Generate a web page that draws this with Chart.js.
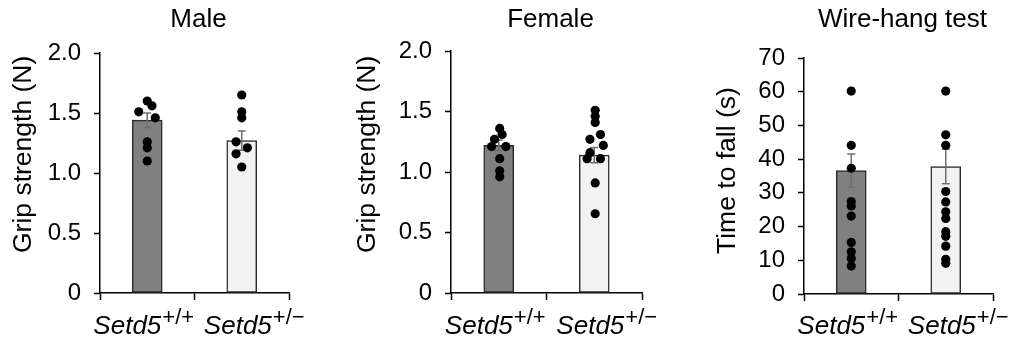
<!DOCTYPE html>
<html>
<head>
<meta charset="utf-8">
<script src="https://cdn.jsdelivr.net/npm/chart.js@4"></script>
<style>
  html, body { margin: 0; padding: 0; background: #fff; }
  #wrap { position: relative; width: 1016px; height: 345px; overflow: hidden; }
  .panel { position: absolute; top: 0; }
</style>
</head>
<body>
<div id="wrap"></div>
<script>
// ---- data ----
const geneName = 'Setd5';
const genotypes = ['+/+', '+/\u2212'];
const panelTitles = ['Male', 'Female', 'Wire-hang test'];
const yTitles = ['Grip strength (N)', 'Grip strength (N)', 'Time to fall (s)'];

const gripTicks = [0, 0.5, 1.0, 1.5, 2.0];
const wireTicks = [0, 10, 20, 30, 40, 50, 60, 70];

const maleMean = [1.44, 1.27];
const maleSem = [0.06, 0.08];
const maleWT = [1.60, 1.56, 1.51, 1.46, 1.26, 1.21, 1.10];
const maleWTJitter = [0, 0.05, -0.09, 0.085, 0, 0, 0];
const maleHet = [1.65, 1.51, 1.46, 1.26, 1.21, 1.16, 1.05];
const maleHetJitter = [0, 0, 0, -0.06, 0.06, -0.06, 0];

const femaleMean = [1.22, 1.14];
const femaleSem = [0.045, 0.063];
const femaleWT = [1.36, 1.31, 1.27, 1.21, 1.21, 1.11, 1.01, 0.96];
const femaleWTJitter = [0.01, 0.035, -0.045, -0.075, 0.075, 0.01, 0.01, 0.01];
const femaleHet = [1.51, 1.46, 1.41, 1.31, 1.27, 1.22, 1.16, 1.11, 1.11, 0.91, 0.655];
const femaleHetJitter = [0.01, 0.01, 0.01, 0.065, -0.045, 0.095, -0.045, -0.075, 0.065, 0.01, 0.01];

const wireMean = [36.6, 37.8];
const wireSem = [4.9, 5.1];
const wireWT = [60.2, 44.1, 37.3, 27.4, 26.1, 23.1, 15.3, 12.5, 10.5, 8.3];
const wireWTJitter = [0, 0, 0, 0, 0, 0, 0, 0, 0, 0];
const wireHet = [60.2, 47.2, 44.1, 30.4, 27.3, 24.4, 22.4, 18.5, 17.1, 14.2, 10.3, 9.1];
const wireHetJitter = [0, 0, 0, 0, 0, 0, 0, 0, 0, 0, 0, 0];

// ---- layout of the three panels ----
const panels = [
  { left: 0,   width: 339, top: 53, right: 50, yw: 100, xh: 52, ytOff: 76,
    mean: maleMean, sem: maleSem, wt: maleWT, wtJ: maleWTJitter, het: maleHet, hetJ: maleHetJitter, ticks: gripTicks },
  { left: 339, width: 339, top: 51, right: 36, yw: 112, xh: 52, ytOff: 83,
    mean: femaleMean, sem: femaleSem, wt: femaleWT, wtJ: femaleWTJitter, het: femaleHet, hetJ: femaleHetJitter, ticks: gripTicks },
  { left: 678, width: 338, top: 58, right: 23, yw: 126, xh: 51, ytOff: 76,
    mean: wireMean, sem: wireSem, wt: wireWT, wtJ: wireWTJitter, het: wireHet, hetJ: wireHetJitter, ticks: wireTicks }
];

const FONT = '"Liberation Sans", Arial, sans-serif';
Chart.defaults.font.family = FONT;
Chart.defaults.color = '#000';

const barColors = ['#808080', '#f2f2f2'];
const labelShift = [-4, 12];

function fmtTick(v, ticks) {
  if (v === 0) return '0';
  return ticks[ticks.length - 1] < 10 ? v.toFixed(1) : String(v);
}

// error bars go on top of the bars but under the dots
const errorBars = {
  id: 'errorBars',
  afterDatasetDraw(chart, args) {
    if (args.index !== 0) return;
    const p = chart.options.plugins.errorBars;
    const ctx = chart.ctx, xs = chart.scales.x, ys = chart.scales.y;
    ctx.save();
    ctx.strokeStyle = '#6e6e6e';
    ctx.lineWidth = 1.5;
    p.mean.forEach((m, i) => {
      const x = xs.getPixelForValue(i);
      const y1 = ys.getPixelForValue(m - p.sem[i]);
      const y2 = ys.getPixelForValue(m + p.sem[i]);
      ctx.beginPath();
      ctx.moveTo(x, y1); ctx.lineTo(x, y2);
      ctx.moveTo(x - 4, y1); ctx.lineTo(x + 4, y1);
      ctx.moveTo(x - 4, y2); ctx.lineTo(x + 4, y2);
      ctx.stroke();
    });
    ctx.restore();
  }
};

// titles, rotated axis titles and italic genotype labels
const texts = {
  id: 'texts',
  afterDraw(chart) {
    const p = chart.options.plugins.texts;
    const ctx = chart.ctx, ca = chart.chartArea, xs = chart.scales.x;
    ctx.save();
    ctx.fillStyle = '#000';
    ctx.textBaseline = 'alphabetic';
    ctx.textAlign = 'center';
    ctx.font = '26px ' + FONT;
    ctx.fillText(p.title, (ca.left + ca.right) / 2 + 4, 27);

    ctx.save();
    ctx.translate(ca.left - p.ytOff, ca.bottom - 40);
    ctx.rotate(-Math.PI / 2);
    ctx.textAlign = 'left';
    ctx.textBaseline = 'middle';
    ctx.font = '26.5px ' + FONT;
    ctx.fillText(p.yTitle, 0, 0);
    ctx.restore();

    ctx.textAlign = 'left';
    genotypes.forEach((g, i) => {
      ctx.font = 'italic 26px ' + FONT;
      const wMain = ctx.measureText(geneName).width;
      ctx.font = '22px ' + FONT;
      const wSup = ctx.measureText(g).width;
      const x0 = xs.getPixelForValue(i) + labelShift[i] - (wMain + wSup) / 2;
      ctx.font = 'italic 26px ' + FONT;
      ctx.fillText(geneName, x0, 334);
      ctx.font = '22px ' + FONT;
      ctx.fillText(g, x0 + wMain + 1, 324);
    });
    ctx.restore();
  }
};

const wrap = document.getElementById('wrap');

panels.forEach((p, k) => {
  const div = document.createElement('div');
  div.className = 'panel';
  div.style.left = p.left + 'px';
  const canvas = document.createElement('canvas');
  canvas.width = p.width;
  canvas.height = 345;
  canvas.style.width = p.width + 'px';
  canvas.style.height = '345px';
  div.appendChild(canvas);
  wrap.appendChild(div);

  const dots = p.wt.map((v, i) => ({ x: 0 + p.wtJ[i], y: v }))
    .concat(p.het.map((v, i) => ({ x: 1 + p.hetJ[i], y: v })));

  new Chart(canvas.getContext('2d'), {
    type: 'bar',
    data: {
      datasets: [{
        type: 'bar',
        data: p.mean.map((m, i) => ({ x: i, y: m })),
        backgroundColor: barColors,
        borderColor: '#2b2b2b',
        borderWidth: 1.5,
        borderSkipped: false,
        barThickness: 30,
        order: 1
      }, {
        type: 'scatter',
        data: dots,
        pointRadius: 4.6,
        pointBackgroundColor: '#000',
        pointBorderWidth: 0,
        order: 0
      }]
    },
    options: {
      responsive: false,
      animation: false,
      events: [],
      layout: { padding: { top: p.top, right: p.right, left: 0, bottom: 0 } },
      plugins: {
        legend: { display: false },
        tooltip: { enabled: false },
        errorBars: { mean: p.mean, sem: p.sem },
        texts: { title: panelTitles[k], yTitle: yTitles[k], ytOff: p.ytOff }
      },
      scales: {
        x: {
          type: 'linear',
          min: -0.5,
          max: 1.5,
          offset: false,
          afterBuildTicks: s => { s.ticks = [-0.5, 0.5, 1.5].map(v => ({ value: v })); },
          afterFit: s => { s.height = p.xh; },
          ticks: { callback: () => '', maxRotation: 0 },
          grid: { offset: false, drawOnChartArea: false, drawTicks: true, tickLength: 7, tickColor: '#000', tickWidth: 1.5 },
          border: { display: true, color: '#000', width: 1.5 }
        },
        y: {
          min: p.ticks[0],
          max: p.ticks[p.ticks.length - 1],
          afterBuildTicks: s => { s.ticks = p.ticks.map(v => ({ value: v })); },
          afterFit: s => { s.width = p.yw; },
          ticks: {
            font: { size: 24 },
            color: '#000',
            padding: 13,
            callback: v => fmtTick(v, p.ticks)
          },
          grid: { drawOnChartArea: false, drawTicks: true, tickLength: 6, tickColor: '#000', tickWidth: 1.5 },
          border: { display: true, color: '#000', width: 1.5 }
        }
      }
    },
    plugins: [errorBars, texts]
  });
});
</script>
</body>
</html>
